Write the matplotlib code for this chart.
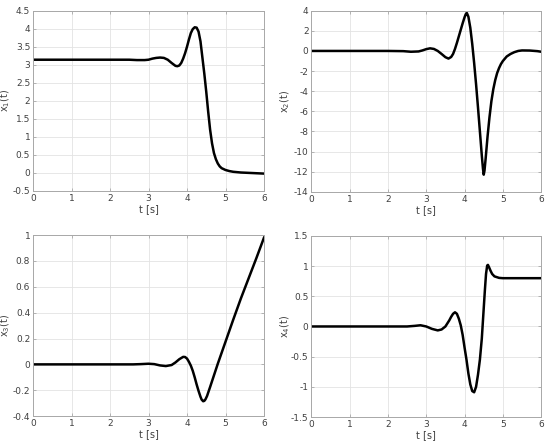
import matplotlib
matplotlib.use('Agg')
import matplotlib.pyplot as plt

# x1(t)
t1 = [0, 1, 2, 2.5, 2.7, 2.9, 3.0, 3.1, 3.2, 3.3, 3.4, 3.5, 3.6, 3.7, 3.75, 3.8, 3.85, 3.9,
      3.95, 4.0, 4.05, 4.1, 4.15, 4.2, 4.25, 4.3, 4.35, 4.4, 4.45, 4.5, 4.55, 4.6, 4.65, 4.7,
      4.75, 4.8, 4.85, 4.9, 5.0, 5.1, 5.2, 5.4, 5.6, 5.8, 6.0]
x1 = [3.14, 3.14, 3.14, 3.14, 3.13, 3.13, 3.14, 3.17, 3.19, 3.2, 3.19, 3.14, 3.05, 2.97, 2.96,
      2.98, 3.05, 3.17, 3.32, 3.5, 3.7, 3.88, 3.99, 4.04, 4.03, 3.92, 3.65, 3.2, 2.75, 2.25,
      1.7, 1.2, 0.82, 0.55, 0.38, 0.26, 0.18, 0.13, 0.08, 0.05, 0.03, 0.01, 0.0, -0.01, -0.02]

# x2(t)
t2 = [0, 1, 2, 2.4, 2.6, 2.8, 2.9, 3.0, 3.1, 3.2, 3.3, 3.4, 3.5, 3.58, 3.65, 3.7, 3.75, 3.8,
      3.85, 3.9, 3.95, 4.0, 4.03, 4.06, 4.1, 4.15, 4.2, 4.25, 4.3, 4.35, 4.4, 4.45, 4.48, 4.5,
      4.52, 4.55, 4.6, 4.65, 4.7, 4.75, 4.8, 4.85, 4.9, 4.95, 5.0, 5.1, 5.2, 5.3, 5.4, 5.5,
      5.7, 5.9, 6.0]
x2 = [0, 0, 0, -0.02, -0.08, -0.05, 0.05, 0.18, 0.26, 0.2, 0.0, -0.3, -0.62, -0.76, -0.6,
      -0.3, 0.2, 0.8, 1.45, 2.1, 2.75, 3.35, 3.65, 3.77, 3.4, 2.3, 0.7, -1.2, -3.3, -5.6,
      -8.0, -10.4, -11.7, -12.3, -11.9, -10.7, -8.5, -6.6, -5.0, -3.8, -2.9, -2.2, -1.7,
      -1.3, -1.0, -0.55, -0.3, -0.12, 0.0, 0.05, 0.04, -0.02, -0.08]

# x3(t)
t3 = [0, 1, 2, 2.6, 2.8, 3.0, 3.15, 3.3, 3.45, 3.6, 3.7, 3.8, 3.9, 3.95, 4.0, 4.05, 4.1, 4.15,
      4.2, 4.25, 4.3, 4.35, 4.38, 4.42, 4.45, 4.48, 4.52, 4.56, 4.6, 4.65, 4.7, 4.75, 4.8,
      4.9, 5.0, 5.2, 5.4, 5.6, 5.8, 6.0]
x3 = [0, 0, 0, 0, 0.002, 0.005, 0.002, -0.008, -0.013, -0.005, 0.015, 0.04, 0.058, 0.057,
      0.045, 0.02, -0.01, -0.05, -0.1, -0.155, -0.205, -0.25, -0.272, -0.285, -0.282, -0.27,
      -0.245, -0.21, -0.175, -0.13, -0.085, -0.04, 0.005, 0.09, 0.175, 0.345, 0.51, 0.665,
      0.82, 0.98]

# x4(t)
t4 = [0, 1, 2, 2.5, 2.7, 2.85, 3.0, 3.15, 3.3, 3.4, 3.5, 3.6, 3.65, 3.7, 3.75, 3.8, 3.85, 3.9,
      3.95, 4.0, 4.05, 4.1, 4.15, 4.2, 4.25, 4.3, 4.35, 4.4, 4.45, 4.5, 4.53, 4.56, 4.59,
      4.61, 4.64, 4.68, 4.72, 4.78, 4.9, 5.0, 5.5, 6.0]
x4 = [0, 0, 0, 0, 0.01, 0.02, 0.0, -0.04, -0.065, -0.05, 0.0, 0.1, 0.16, 0.21, 0.235, 0.21,
      0.13, 0.02, -0.14, -0.35, -0.55, -0.78, -0.96, -1.07, -1.09, -1.0, -0.8, -0.55, -0.2,
      0.3, 0.6, 0.87, 1.01, 1.02, 0.98, 0.92, 0.87, 0.83, 0.805, 0.8, 0.8, 0.8]

series = [(t1, x1, r'x$_1$(t)', (-0.5, 4.5), 0.5),
          (t2, x2, r'x$_2$(t)', (-14, 4), 2),
          (t3, x3, r'x$_3$(t)', (-0.4, 1), 0.2),
          (t4, x4, r'x$_4$(t)', (-1.5, 1.5), 0.5)]

# axes positions [left, bottom, width, height] in figure fractions
boxes = [[0.060, 0.572, 0.420, 0.404],
         [0.566, 0.570, 0.418, 0.406],
         [0.060, 0.067, 0.420, 0.406],
         [0.566, 0.065, 0.418, 0.406]]
label_x = [-0.09, -0.085, -0.09, -0.085]

txt = '#404040'
fig = plt.figure(figsize=(5.5, 4.46), dpi=100)

for (t, x, lab, ylim, step), box, lx in zip(series, boxes, label_x):
    ax = fig.add_axes(box)
    ax.plot(t, x, color='black', linewidth=1.8)
    ax.set_xlim(0, 6)
    ax.set_ylim(*ylim)
    ax.set_xticks(range(0, 7))
    n = int(round((ylim[1] - ylim[0]) / step))
    ax.set_yticks([round(ylim[0] + i * step, 2) for i in range(n + 1)])
    ax.yaxis.set_major_formatter(plt.FuncFormatter(lambda v, p: ('%g' % v)))
    ax.grid(True, color='#e3e3e3', linewidth=0.6)
    ax.set_axisbelow(True)
    for s in ax.spines.values():
        s.set_color('#a8a8a8')
        s.set_linewidth(0.7)
    ax.tick_params(direction='in', length=2, width=0.6, color='#a8a8a8',
                   labelsize=6.5, labelcolor=txt, top=True, right=True, pad=2)
    ax.set_xlabel('t [s]', fontsize=7, color=txt, labelpad=1)
    ax.set_ylabel(lab, fontsize=7, color=txt)
    ax.yaxis.set_label_coords(lx, 0.5)

fig.savefig('out.png', dpi=100)
